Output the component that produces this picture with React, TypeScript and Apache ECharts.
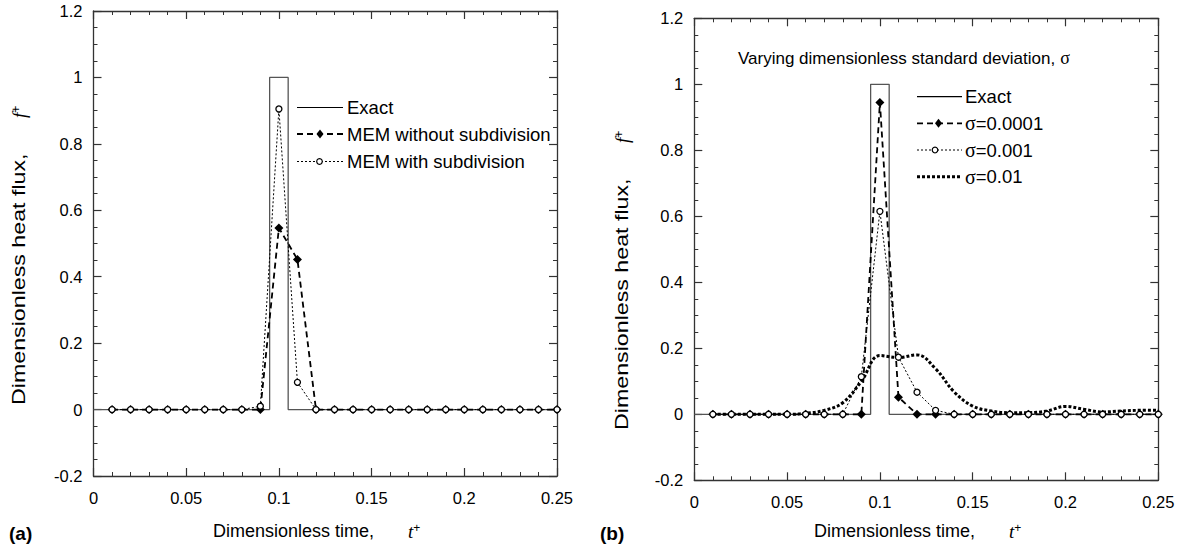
import React, { useEffect, useRef } from "react";
import * as echarts from "echarts";

// ---- data ----
const times = [
  0.01, 0.02, 0.03, 0.04, 0.05, 0.06, 0.07, 0.08, 0.09, 0.1, 0.11, 0.12, 0.13,
  0.14, 0.15, 0.16, 0.17, 0.18, 0.19, 0.2, 0.21, 0.22, 0.23, 0.24, 0.25,
];
const exactT = [0, 0.095, 0.095, 0.105, 0.105, 0.25];
const exactF = [0, 0, 1, 1, 0, 0];

// panel (a)
const memNoSub = [
  0, 0, 0, 0, 0, 0, 0, 0, 0, 0.547, 0.452, 0, 0, 0, 0, 0, 0, 0, 0, 0, 0, 0, 0, 0, 0,
];
const memSub = [
  0, 0, 0, 0, 0, 0, 0, 0, 0.01, 0.905, 0.082, 0, 0, 0, 0, 0, 0, 0, 0, 0, 0, 0, 0, 0, 0,
];

// panel (b)
const sig0001 = [
  0, 0, 0, 0, 0, 0, 0, 0, 0, 0.945, 0.052, 0, 0, 0, 0, 0, 0, 0, 0, 0, 0, 0, 0, 0, 0,
];
const sig001 = [
  0, 0, 0, 0, 0, 0, 0, 0, 0.114, 0.615, 0.173, 0.067, 0.012, 0, 0, 0, 0, 0, 0, 0, 0, 0, 0, 0, 0,
];
const sig01 = [
  0, 0, 0, 0, 0, 0.003, 0.012, 0.035, 0.1, 0.178, 0.172, 0.18, 0.138, 0.068, 0.025,
  0.01, 0.005, 0.005, 0.01, 0.024, 0.015, 0.007, 0.01, 0.012, 0.012,
];

const xTicks = { min: 0, max: 0.25, interval: 0.05 };
const yTicks = { min: -0.2, max: 1.2, interval: 0.2 };

const FONT = "Liberation Sans, Arial, Helvetica, sans-serif";
const SERIF = "Liberation Serif, serif";
const AXIS_COLOR = "#333";
const TICK_FS = 16.5;
const LEG_FS = 18.5;
const TITLE_FS = 18;

const pair = (xs: number[], ys: number[]) => xs.map((x, i) => [x, ys[i]]);

function axesFor(gridIndex: number) {
  const common = {
    gridIndex,
    type: "value" as const,
    axisLine: { show: true, onZero: false, lineStyle: { color: AXIS_COLOR, width: 1.3 } },
    axisTick: { show: true, inside: true, length: 8, lineStyle: { color: AXIS_COLOR, width: 1.2 } },
    minorTick: { show: true, length: 4, lineStyle: { color: AXIS_COLOR, width: 1 } },
    splitLine: { show: false },
    minorSplitLine: { show: false },
  };
  const xa = (position: string, showLabel: boolean) => ({
    ...common,
    ...xTicks,
    position,
    minorTick: { ...common.minorTick, splitNumber: 5 },
    axisLabel: {
      show: showLabel,
      margin: 13,
      fontSize: TICK_FS,
      color: "#000",
      fontFamily: FONT,
      formatter: (v: number) => String(+v.toFixed(2)),
    },
  });
  const ya = (position: string, showLabel: boolean) => ({
    ...common,
    ...yTicks,
    position,
    minorTick: { ...common.minorTick, splitNumber: 4 },
    axisLabel: {
      show: showLabel,
      margin: 11,
      fontSize: TICK_FS,
      color: "#000",
      fontFamily: FONT,
      formatter: (v: number) => String(+v.toFixed(1)),
    },
  });
  return {
    x: [xa("bottom", true), xa("top", false)],
    y: [ya("left", true), ya("right", false)],
  };
}

function exactSeries(axisIndex: number) {
  return {
    type: "line",
    name: "Exact",
    xAxisIndex: axisIndex,
    yAxisIndex: axisIndex,
    data: pair(exactT, exactF),
    showSymbol: false,
    symbol: "none",
    lineStyle: { color: "#555", width: 1.3, type: "solid" },
    z: 2,
  };
}

function diamondSeries(name: string, axisIndex: number, ys: number[]) {
  return {
    type: "line",
    name,
    xAxisIndex: axisIndex,
    yAxisIndex: axisIndex,
    data: pair(times, ys),
    symbol: "diamond",
    symbolSize: 9,
    showSymbol: true,
    itemStyle: { color: "#000" },
    lineStyle: { color: "#000", width: 1.8, type: [6, 4] },
    z: 3,
  };
}

function circleSeries(name: string, axisIndex: number, ys: number[]) {
  return {
    type: "line",
    name,
    xAxisIndex: axisIndex,
    yAxisIndex: axisIndex,
    data: pair(times, ys),
    symbol: "circle",
    symbolSize: 6,
    showSymbol: true,
    itemStyle: { color: "#fff", borderColor: "#000", borderWidth: 1.3 },
    lineStyle: { color: "#000", width: 1, type: [2, 2] },
    z: 4,
  };
}

const supRich = {
  it: { fontFamily: SERIF, fontStyle: "italic", fontSize: 19, color: "#000" },
  sup: { fontFamily: FONT, fontSize: 12, color: "#000", verticalAlign: "top" },
};

const sigRich = {
  s: { fontFamily: SERIF, fontSize: 20, color: "#000" },
  n: { fontFamily: FONT, fontSize: LEG_FS, color: "#000" },
};

function text(x: number, y: number, t: string, extra: any = {}, el: any = {}) {
  return {
    type: "text",
    x,
    y,
    ...el,
    style: {
      text: t,
      fontFamily: FONT,
      fontSize: LEG_FS,
      fill: "#000",
      textAlign: "left",
      textVerticalAlign: "middle",
      ...extra,
    },
  };
}

function legendLine(x1: number, x2: number, y: number, width: number, dash: number[] | null) {
  return {
    type: "line",
    shape: { x1, y1: y, x2, y2: y },
    style: { stroke: "#000", lineWidth: width, lineDash: dash || undefined },
  };
}

function legendDiamond(cx: number, cy: number) {
  return {
    type: "polygon",
    shape: { points: [[cx, cy - 4.5], [cx + 3.5, cy], [cx, cy + 4.5], [cx - 3.5, cy]] },
    style: { fill: "#000" },
  };
}

function legendCircle(cx: number, cy: number) {
  return {
    type: "circle",
    shape: { cx, cy, r: 2.8 },
    style: { fill: "#fff", stroke: "#000", lineWidth: 1.2 },
  };
}

function xTitle(x0: number, xt: number, y: number) {
  return [
    text(x0, y, "Dimensionless time,", { fontSize: TITLE_FS }),
    text(xt, y, "{it|t}{sup|+}", { rich: supRich }),
  ];
}

function yTitle(x: number, yBottom: number, yF: number) {
  const rot = { rotation: Math.PI / 2 };
  return [
    text(x, yBottom, "Dimensionless heat flux,", { fontSize: TITLE_FS }, { ...rot, scaleX: 1.29 }),
    text(x, yF, "{it|f}{sup|+}", { rich: supRich }, rot),
  ];
}

export default function App() {
  const ref = useRef<HTMLDivElement>(null);
  useEffect(() => {
    if (!ref.current) return;
    const chart = echarts.init(ref.current, null, { renderer: "svg" });
    const a = axesFor(0);
    const b = axesFor(1);
    const option: any = {
      animation: false,
      backgroundColor: "#fff",
      grid: [
        { left: 93.5, top: 11, width: 463.5, height: 465 },
        { left: 694.3, top: 18.3, width: 464, height: 462 },
      ],
      xAxis: [...a.x, ...b.x].map((ax, i) => ({ ...ax, gridIndex: i < 2 ? 0 : 1 })),
      yAxis: [...a.y, ...b.y].map((ax, i) => ({ ...ax, gridIndex: i < 2 ? 0 : 1 })),
      series: [
        exactSeries(0),
        diamondSeries("MEM without subdivision", 0, memNoSub),
        circleSeries("MEM with subdivision", 0, memSub),
        exactSeries(2),
        {
          type: "line",
          name: "σ=0.01",
          xAxisIndex: 2,
          yAxisIndex: 2,
          data: pair(times, sig01),
          smooth: 0.4,
          showSymbol: false,
          symbol: "none",
          lineStyle: { color: "#000", width: 3, type: [3, 2] },
          z: 2,
        },
        diamondSeries("σ=0.0001", 2, sig0001),
        circleSeries("σ=0.001", 2, sig001),
      ],
      graphic: [
        // panel (a) legend
        legendLine(297, 343, 107.5, 1.2, null),
        text(347, 107.5, "Exact"),
        legendLine(297, 343, 134, 1.8, [6, 4]),
        legendDiamond(320, 134),
        text(347, 134, "MEM without subdivision"),
        legendLine(297, 343, 161.5, 1, [2, 2]),
        legendCircle(319.5, 161.5),
        text(347, 161.5, "MEM with subdivision"),
        // panel (b) annotation + legend
        text(738, 58, "{n|Varying dimensionless standard deviation,} {s|σ}", {
          rich: {
            n: { fontFamily: FONT, fontSize: 17, color: "#000" },
            s: { fontFamily: SERIF, fontSize: 18, color: "#000" },
          },
        }),
        legendLine(917, 962, 96.7, 1.2, null),
        text(965, 96.7, "Exact"),
        legendLine(917, 962, 123.3, 1.8, [6, 4]),
        legendDiamond(938.5, 123.3),
        text(965, 123.3, "{s|σ}{n|=0.0001}", { rich: sigRich }),
        legendLine(917, 962, 150, 1, [2, 2]),
        legendCircle(935, 150),
        text(965, 150, "{s|σ}{n|=0.001}", { rich: sigRich }),
        legendLine(917, 962, 176.7, 3, [3, 2]),
        text(965, 176.7, "{s|σ}{n|=0.01}", { rich: sigRich }),
        // panel labels
        text(9, 533, "(a)", { fontWeight: "bold", fontSize: 19 }),
        text(600, 533, "(b)", { fontWeight: "bold", fontSize: 19 }),
        // x titles
        ...xTitle(213, 408, 531),
        ...xTitle(814, 1009, 531),
        // y titles
        ...yTitle(19, 405, 118),
        ...yTitle(622, 430, 143),
      ],
    };
    chart.setOption(option);
    return () => chart.dispose();
  }, []);
  return (
    <div
      ref={ref}
      style={{ position: "fixed", left: 0, top: 0, width: 1182, height: 549, background: "#fff" }}
    />
  );
}
